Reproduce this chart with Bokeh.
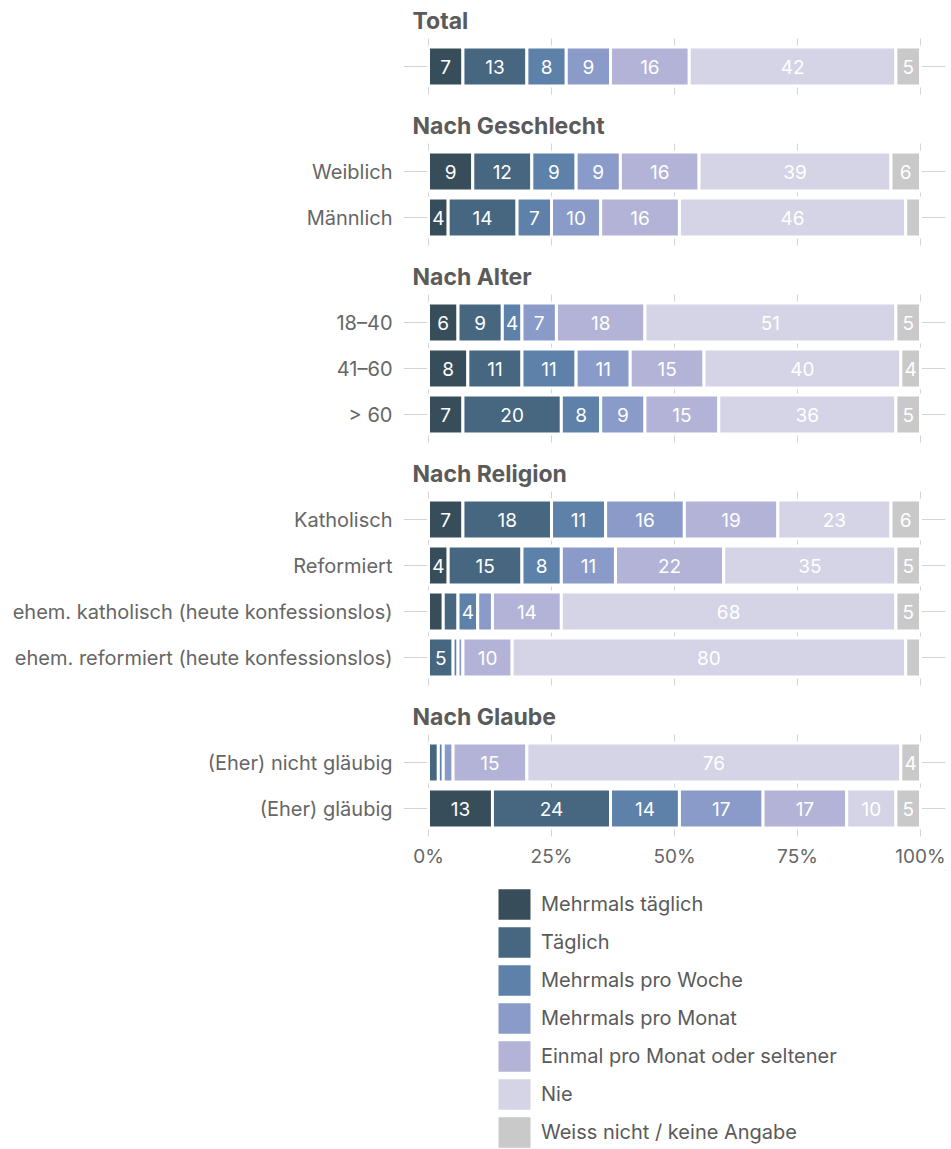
from bokeh.plotting import figure
from bokeh.layouts import column
from bokeh.models import Range1d, FixedTicker, ColumnDataSource, Legend, LegendItem, PrintfTickFormatter
from bokeh.core.properties import value
from bokeh.embed import file_html
from bokeh.resources import INLINE

# ---------------- data ----------------
categories = ["Mehrmals täglich", "Täglich", "Mehrmals pro Woche", "Mehrmals pro Monat",
              "Einmal pro Monat oder seltener", "Nie", "Weiss nicht / keine Angabe"]
colors = ["#384d5a", "#46677f", "#5d81a8", "#8a9bc9", "#b3b3d7", "#d5d3e6", "#c9c9c9"]

groups = ["Total", "Nach Geschlecht", "Nach Alter", "Nach Religion", "Nach Glaube"]
group_rows = [
    [""],
    ["Weiblich", "Männlich"],
    ["18–40", "41–60", "> 60"],
    ["Katholisch", "Reformiert", "ehem. katholisch (heute konfessionslos)",
     "ehem. reformiert (heute konfessionslos)"],
    ["(Eher) nicht gläubig", "(Eher) gläubig"],
]

mehrmals_taeglich = [7, 9, 4, 6, 8, 7, 7, 4, 3, 0, 0, 13]
taeglich          = [13, 12, 14, 9, 11, 20, 18, 15, 3, 5, 2, 24]
mehrmals_woche    = [8, 9, 7, 4, 11, 8, 11, 8, 4, 1, 1, 14]
mehrmals_monat    = [9, 9, 10, 7, 11, 9, 16, 11, 3, 1, 2, 17]
einmal_monat      = [16, 16, 16, 18, 15, 15, 19, 22, 14, 10, 15, 17]
nie               = [42, 39, 46, 51, 40, 36, 23, 35, 68, 80, 76, 10]
weiss_nicht       = [5, 6, 3, 5, 4, 5, 6, 5, 5, 3, 4, 5]

x_ticks = [0, 25, 50, 75, 100]

# ---------------- layout ----------------
FONT = "Inter"
ROW = 46
HEAD_TO_ROW = 46
ROW_TO_HEAD = 59
TOP = 20
W = 948
FRAME_LEFT = 403
FRAME_RIGHT_BORDER = W - FRAME_LEFT - 542
FRAME_H = 838
MAIN_H = 870
LEG_H = 279

header_y, row_y, row_labels = [], [], []
y = TOP
for gi, rows in enumerate(group_rows):
    if gi > 0:
        y += ROW_TO_HEAD
    header_y.append(y)
    y += HEAD_TO_ROW
    for ri, lab in enumerate(rows):
        if ri > 0:
            y += ROW
        row_y.append(y)
        row_labels.append(lab)

series = [mehrmals_taeglich, taeglich, mehrmals_woche, mehrmals_monat, einmal_monat, nie, weiss_nicht]
keys = ["c%d" % i for i in range(len(series))]
data = {"y": row_y}
for k, s in zip(keys, series):
    data[k] = s
source = ColumnDataSource(data)

x_start, x_end = -5.08, 105.08

p = figure(width=W, height=MAIN_H, output_backend="svg", toolbar_location=None,
           x_range=Range1d(x_start, x_end), y_range=Range1d(FRAME_H, 0),
           min_border_left=FRAME_LEFT, min_border_right=FRAME_RIGHT_BORDER,
           min_border_top=0, min_border_bottom=MAIN_H - FRAME_H)
p.outline_line_color = None
p.xgrid.visible = False
p.ygrid.visible = False

grid_c = "#d4d4d4"
# horizontal row lines
p.segment(x0=[x_start] * len(row_y), x1=[x_end] * len(row_y), y0=row_y, y1=row_y,
          line_color=grid_c, line_width=1)
# vertical grid pieces per row
gx, gy0, gy1 = [], [], []
for ry in row_y:
    for t in x_ticks:
        gx.append(t)
        gy0.append(ry - 28)
        gy1.append(ry + 28)
p.segment(x0=gx, x1=gx, y0=gy0, y1=gy1, line_color=grid_c, line_width=1)

renderers = p.hbar_stack(keys, y="y", height=39, color=colors, source=source,
                         line_color="white", line_width=3)

# value labels
lx, ly, lt = [], [], []
for i, ry in enumerate(row_y):
    cum = 0
    for s in series:
        v = s[i]
        if v >= 4:
            lx.append(cum + v / 2)
            ly.append(ry)
            lt.append(str(v))
        cum += v
p.text(x=lx, y=ly, text=lt, text_align="center", text_baseline="middle",
       text_color="white", text_font=value(FONT), text_font_size="19px")

# group headers
p.text(x=[x_start] * len(header_y), y=header_y, text=groups, x_offset=9,
       text_align="left", text_baseline="middle", text_color="#5a5a5a",
       text_font=value(FONT), text_font_style="bold", text_font_size="23px")

# axes
p.yaxis.ticker = FixedTicker(ticks=row_y)
p.yaxis.major_label_overrides = {ry: lab for ry, lab in zip(row_y, row_labels)}
p.yaxis.axis_line_color = None
p.yaxis.major_tick_line_color = None
p.yaxis.minor_tick_line_color = None
p.yaxis.major_label_standoff = 5
p.yaxis.major_label_text_font = FONT
p.yaxis.major_label_text_font_size = "20px"
p.yaxis.major_label_text_color = "#666666"

p.xaxis.ticker = FixedTicker(ticks=x_ticks)
p.xaxis.formatter = PrintfTickFormatter(format="%d%%")
p.xaxis.axis_line_color = None
p.xaxis.major_tick_line_color = None
p.xaxis.minor_tick_line_color = None
p.xaxis.major_label_standoff = 0
p.xaxis.major_label_text_font = FONT
p.xaxis.major_label_text_font_size = "19px"
p.xaxis.major_label_text_color = "#666666"

# ---------------- legend figure ----------------
LEG_X = 91   # offset from frame left
lp = figure(width=W, height=LEG_H, output_backend="svg", toolbar_location=None,
            x_range=Range1d(0, 1), y_range=Range1d(0, 1),
            min_border_left=FRAME_LEFT, min_border_right=FRAME_RIGHT_BORDER,
            min_border_top=0, min_border_bottom=0)
lp.axis.visible = False
lp.grid.visible = False
lp.outline_line_color = None
dummy = []
for c in colors:
    # placed outside the visible range; only used for the legend swatch
    dummy.append(lp.hbar(y=[5], left=[5], right=[6], height=1, fill_color=c, line_color=None))

legend = Legend(items=[LegendItem(label=c, renderers=[r]) for c, r in zip(categories, dummy)],
                location=(LEG_X, -2), orientation="vertical",
                glyph_width=40, glyph_height=38, spacing=0, padding=0, margin=0,
                label_standoff=7, border_line_color=None, background_fill_alpha=0,
                label_text_font=FONT, label_text_font_size="20px",
                label_text_color="#5a5a5a")
lp.add_layout(legend, "center")

layout = column(p, lp, spacing=0)
open("out.html", "w").write(file_html(layout, INLINE))
